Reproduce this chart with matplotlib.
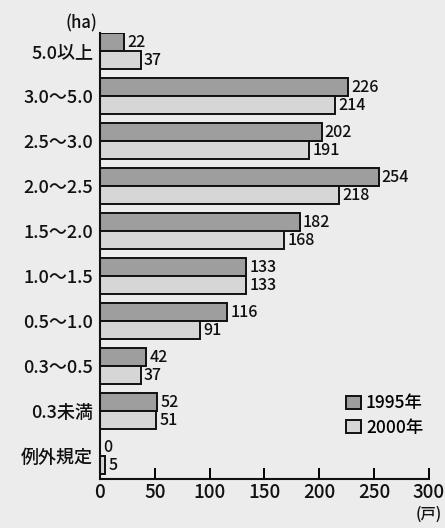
#bar chart: number of farms by farm size, 1995 vs 2000

import matplotlib.pyplot as plt

plt.rcParams['font.family'] = ['Noto Sans CJK JP', 'DejaVu Sans']

sizes = ['5.0以上', '3.0～5.0', '2.5～3.0', '2.0～2.5', '1.5～2.0',
         '1.0～1.5', '0.5～1.0', '0.3～0.5', '0.3未満', '例外規定']
farms_1995 = [22, 226, 202, 254, 182, 133, 116, 42, 52, 0]
farms_2000 = [37, 214, 191, 218, 168, 133, 91, 37, 51, 5]
xticks = [0, 50, 100, 150, 200, 250, 300]

bg = '#ececec'
fig = plt.figure(figsize=(4.45, 5.28), dpi=100, facecolor=bg)
ax = fig.add_axes([0.2247, 0.093, 0.7393, 0.8445], facecolor=bg)

pos = list(range(len(sizes)))
h = 0.4
pos_a = [p - h / 2 for p in pos]
pos_b = [p + h / 2 for p in pos]

ax.barh(pos_a, farms_1995, height=h, color='#9e9e9e', edgecolor='#111111', linewidth=1.4)
ax.barh(pos_b, farms_2000, height=h, color='#d6d6d6', edgecolor='#111111', linewidth=1.4)

for y, v in zip(pos_a, farms_1995):
    ax.text(v + 3, y, str(v), va='center', ha='left', fontsize=11.5,
            fontweight='medium', color='#111111')
for y, v in zip(pos_b, farms_2000):
    ax.text(v + 3, y, str(v), va='center', ha='left', fontsize=11.5,
            fontweight='medium', color='#111111')

ax.set_ylim(9.5, -0.4)
ax.set_xlim(0, 300)
ax.set_yticks(pos)
ax.set_yticklabels(sizes, fontsize=13, fontweight='medium', color='#111111')
ax.set_xticks(xticks)
ax.set_xticklabels([str(t) for t in xticks], fontsize=13.5, fontweight='medium', color='#111111')
ax.tick_params(axis='y', length=0, pad=5)
ax.tick_params(axis='x', direction='in', length=8, width=1.4, pad=3)

for s in ['top', 'right']:
    ax.spines[s].set_visible(False)
for s in ['left', 'bottom']:
    ax.spines[s].set_linewidth(1.5)
    ax.spines[s].set_color('#111111')

# units
ax.text(-2, -0.42, '(ha)', ha='right', va='bottom', fontsize=12,
        fontweight='medium', color='#111111')
ax.text(300, 10.28, '(戸)', ha='center', va='center', fontsize=11,
        fontweight='medium', color='#111111')

# legend
leg_handles = [
    plt.Rectangle((0, 0), 1, 1, facecolor='#9e9e9e', edgecolor='#111111', linewidth=1.4),
    plt.Rectangle((0, 0), 1, 1, facecolor='#d6d6d6', edgecolor='#111111', linewidth=1.4),
]
ax.legend(leg_handles, ['1995年', '2000年'], loc='lower right', bbox_to_anchor=(1.03, 0.06),
          frameon=False, handlelength=0.85, handleheight=0.85,
          handletextpad=0.3, labelspacing=0.35, prop={'weight': 'medium', 'size': 12.5})

plt.savefig('out.png', dpi=100, facecolor=bg)
